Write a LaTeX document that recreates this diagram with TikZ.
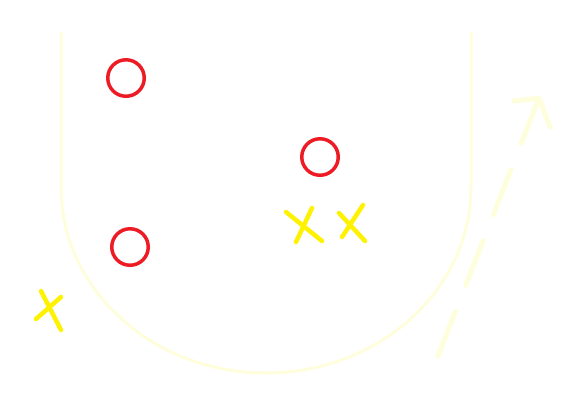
\documentclass[tikz,border=0pt]{standalone}
\usepackage{xcolor}
\usepackage{tikz}
\definecolor{redp}{HTML}{ED1C24}
\definecolor{yelp}{HTML}{FFF200}
\definecolor{paley}{HTML}{FEFEDC}
\tikzset{
  plr/.style={fill=redp,even odd rule},
  xmk/.style={yelp,line width=4.5pt,line cap=round},
  crt/.style={paley,line width=3pt},
  mov/.style={paley,line width=5pt,line cap=round,dash pattern=on 48pt off 28pt},
  movh/.style={paley,line width=5pt,line cap=round,line join=round}
}
\begin{document}
\begin{tikzpicture}[x=1pt,y=-1pt]
\useasboundingbox (0,0) rectangle (580,413);
% court outline
\draw[crt] (61,32) -- (61,187) arc[start angle=180,end angle=0,x radius=205,y radius=186] -- (471,32);
% players
\coordinate (o1) at (126,78);
\coordinate (o2) at (320,157);
\coordinate (o3) at (130,247);
\foreach \p in {o1,o2,o3}{\fill[plr] (\p) circle[radius=20] (\p) circle[radius=16.5];}
% marks
\foreach \xa/\ya/\xb/\yb in {286/212/322/241, 312/208/296/242, 339/213/365/241, 363/205/342/237, 41/291/61/330, 61/297/36/319}{\draw[xmk] (\xa,\ya) -- (\xb,\yb);}
% movement
\coordinate (mvs) at (438,356);
\coordinate (mve) at (539,98);
\coordinate (mva) at (514,101);
\coordinate (mvb) at (550,127);
\draw[mov] (mvs) -- (mve);
\draw[movh] (mva) -- (mve) -- (mvb);
\end{tikzpicture}
\end{document}
